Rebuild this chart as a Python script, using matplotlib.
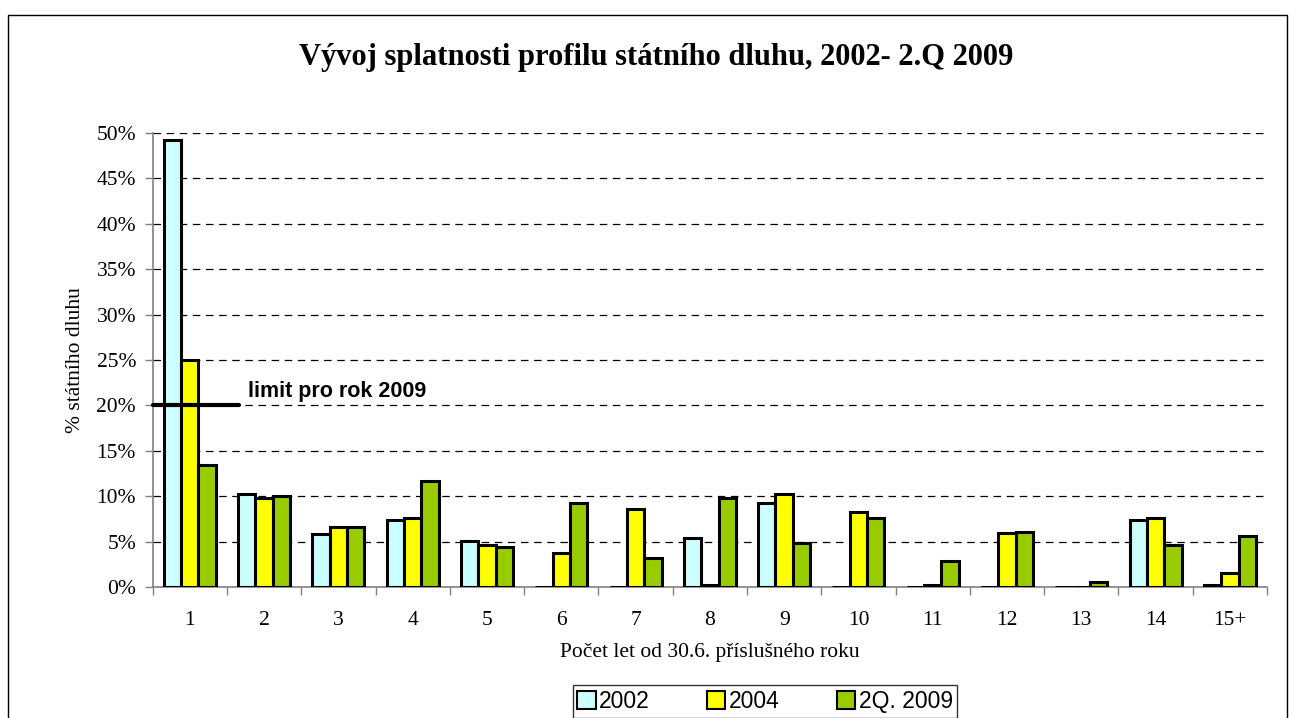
import matplotlib
matplotlib.use("Agg")
import matplotlib.pyplot as plt
import numpy as np
from matplotlib.patches import Rectangle

categories = ["1", "2", "3", "4", "5", "6", "7", "8", "9", "10", "11", "12", "13", "14", "15+"]
series_names = ["2002", "2004", "2Q. 2009"]
vals_2002 = [49.2, 10.2, 5.8, 7.4, 5.1, 0.0, 0.0, 5.4, 9.3, 0.0, 0.0, 0.0, 0.0, 7.4, 0.2]
vals_2004 = [25.0, 9.8, 6.6, 7.6, 4.6, 3.7, 8.6, 0.2, 10.2, 8.3, 0.2, 5.9, 0.0, 7.6, 1.5]
vals_2009 = [13.4, 10.0, 6.6, 11.7, 4.4, 9.3, 3.2, 9.8, 4.9, 7.6, 2.9, 6.1, 0.5, 4.6, 5.6]
colors = ["#CCFFFF", "#FFFF00", "#99CC00"]
limit_value = 20
limit_label = "limit pro rok 2009"

serif = ["Liberation Serif", "DejaVu Serif"]
sans = ["Liberation Sans", "DejaVu Sans"]

W, H = 1296, 718
fig = plt.figure(figsize=(W / 100, H / 100), dpi=100)
ax = fig.add_axes([152.7 / W, 1 - 587 / H, (1267 - 152.7) / W, (587 - 133) / H])

x = np.arange(len(categories))
w = 0.233
for i, (vals, c, name) in enumerate(zip([vals_2002, vals_2004, vals_2009], colors, series_names)):
    ax.bar(x + (i - 1) * w, vals, width=w, color=c, edgecolor="black", linewidth=2.2, label=name, zorder=3)

ax.set_xlim(-0.5, len(categories) - 0.5)
ax.set_ylim(0, 50)
ax.set_yticks(np.arange(0, 51, 5))
ax.set_yticklabels([f"{v}%" for v in range(0, 51, 5)], fontfamily=serif, fontsize=15.5)
ax.set_xticks(x)
ax.set_xticklabels(categories, fontfamily=serif, fontsize=15.5)
ax.set_xticks(np.arange(-0.5, len(categories), 1), minor=True)
ax.tick_params(axis="x", which="major", length=0, pad=17)
ax.tick_params(axis="x", which="minor", length=6, color="#808080", width=1)
ax.tick_params(axis="y", length=6, color="#808080", width=1, pad=6)

for yv in range(5, 51, 5):
    ax.axhline(yv, color="black", linestyle=(0, (6, 4.5)), linewidth=0.9, zorder=1)

for s in ["top", "right"]:
    ax.spines[s].set_visible(False)
for s in ["left", "bottom"]:
    ax.spines[s].set_color("#808080")
    ax.spines[s].set_linewidth(1.2)

ax.plot([-0.49, 0.66], [limit_value, limit_value], color="black", linewidth=3,
        solid_capstyle="round", zorder=4, clip_on=False)
ax.text(0.78, limit_value + 0.4, limit_label, fontfamily=sans, fontsize=15.5, fontweight="bold",
        va="bottom", ha="left", zorder=4)

ax.set_ylabel("% státního dluhu", fontfamily=serif, fontsize=15.5, labelpad=8)
ax.set_xlabel("Počet let od 30.6. příslušného roku", fontfamily=serif, fontsize=15.5, labelpad=10)

fig.text(0.5 + 8 / W, 1 - 58 / H, "Vývoj splatnosti profilu státního dluhu, 2002- 2.Q 2009",
         fontfamily=serif, fontsize=22, fontweight="bold", ha="center", va="center")

# outer chart frame
fig.add_artist(Rectangle((8 / W, -0.05), (1287 - 8) / W, 1.05 - 15 / H,
                         transform=fig.transFigure, fill=False, edgecolor="black", linewidth=1))

handles = [Rectangle((0, 0), 1, 1, facecolor=c, edgecolor="black", linewidth=1.5) for c in colors]
leg = fig.legend(handles, series_names, loc="upper center", bbox_to_anchor=(765 / W, 1 - 674 / H),
                 ncol=3, frameon=True, fancybox=False, prop={"family": sans, "size": 16.5},
                 handlelength=0.8, handleheight=0.8, handletextpad=0.15, columnspacing=2.5,
                 borderpad=0.2, edgecolor="black")
leg.get_frame().set_linewidth(1)

fig.savefig("out.png", dpi=100)
